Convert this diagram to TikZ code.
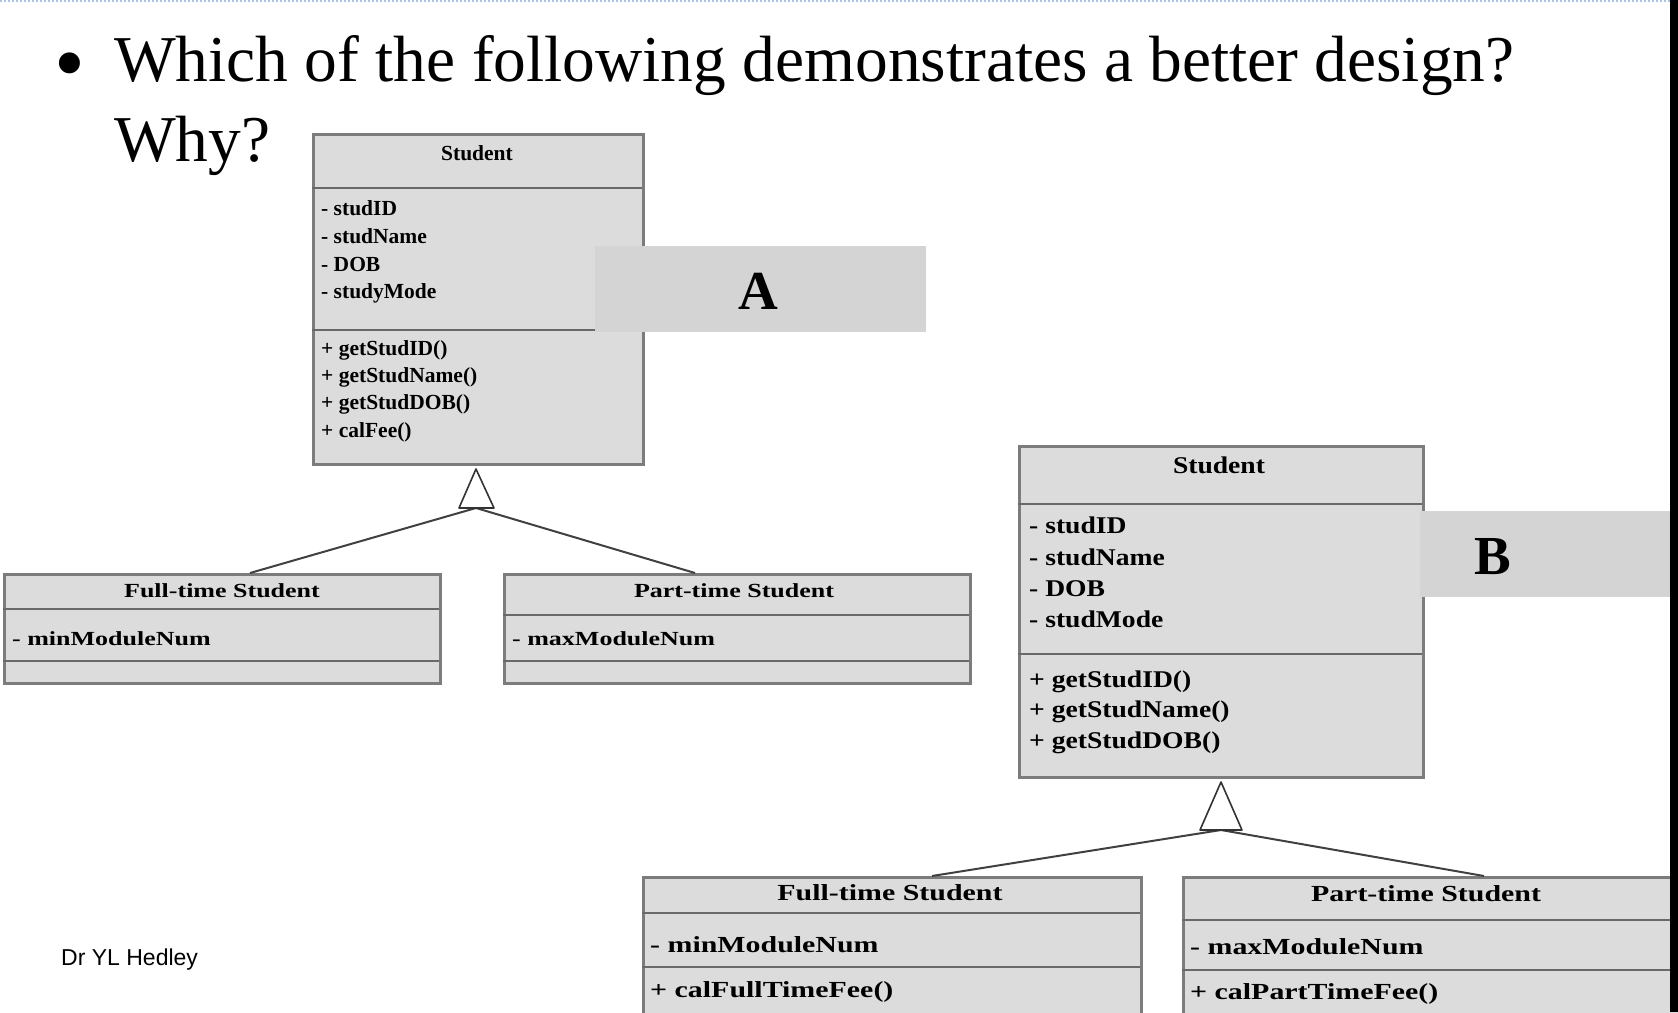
\documentclass[tikz,border=0pt]{standalone}
\usepackage{fontspec}
\setmainfont{Liberation Serif}
\newfontfamily\widefont[FakeStretch=1.3]{Liberation Serif}
\newfontfamily\midfont[FakeStretch=1.15]{Liberation Serif}
\newfontfamily\footfont{Liberation Sans}
\usepackage{xcolor}
\usepackage{tikz}
\definecolor{boxgray}{HTML}{DCDCDC}
\definecolor{tabgray}{HTML}{D4D4D4}
\definecolor{edgegray}{HTML}{7C7C7C}
\definecolor{rulegray}{HTML}{A9C6E6}
\newcommand\umlA{\fontsize{21.5}{24}\selectfont\bfseries}
\newcommand\umlAwide{\widefont\fontsize{20}{24}\selectfont\bfseries}
\newcommand\umlB{\midfont\fontsize{24}{28}\selectfont\bfseries}
\newcommand\umlBwide{\widefont\fontsize{23}{28}\selectfont\bfseries}
\tikzset{
  classbox/.style={draw=edgegray,fill=boxgray,line width=2.5pt,anchor=north west,inner sep=0pt},
  divider/.style={draw=edgegray!85!black,line width=2.5pt},
  member/.style={anchor=base west,inner sep=0pt},
  heading/.style={anchor=base,inner sep=0pt},
  tab/.style={fill=tabgray},
  tabletter/.style={inner sep=0pt,font=\fontsize{55}{60}\selectfont\bfseries},
  inherit/.style={draw=black!75,line width=2pt},
  hollow/.style={draw=black!80,fill=white,line width=1.6pt,line join=round}
}
\begin{document}
\begin{tikzpicture}[x=1pt,y=-1pt]
\useasboundingbox (0,0) rectangle (1678,1012);
\clip (0,0) rectangle (1678,1012);
\draw [rulegray,line width=2pt,dotted] (0,1) -- (1678,1);

\node [anchor=center,inner sep=0pt,font=\fontsize{88}{90}\selectfont] (bullet) at (70,73) {•};
\node [anchor=base west,inner sep=0pt,font=\fontsize{65.4}{80}\selectfont] (question) at (114,81) {Which of the following demonstrates a better design?};
\node [anchor=base west,inner sep=0pt,font=\fontsize{65.4}{80}\selectfont] (why) at (114,161) {Why?};

\node [classbox,minimum width=330pt,minimum height=330pt] (stuA) at (312,133) {};
\draw [divider] (312,188) -- (642,188);
\draw [divider] (312,330) -- (642,330);
\node [heading,font=\umlA] (stuAname) at (477,160) {Student};
\node [member,font=\umlA] (stuAid) at (321,215) {- studID};
\node [member,font=\umlA] (stuAnm) at (321,243) {- studName};
\node [member,font=\umlA] (stuAdob) at (321,271) {- DOB};
\node [member,font=\umlA] (stuAmode) at (321,298) {- studyMode};
\node [member,font=\umlA] (stuAgid) at (321,355) {+ getStudID()};
\node [member,font=\umlA] (stuAgnm) at (321,382) {+ getStudName()};
\node [member,font=\umlA] (stuAgdob) at (321,409) {+ getStudDOB()};
\node [member,font=\umlA] (stuAfee) at (321,437) {+ calFee()};
\fill [tab] (595,246) rectangle (926,332);
\node [tabletter] (labelA) at (758,291) {A};

\node [classbox,minimum width=436pt,minimum height=109pt] (fullA) at (3,573) {};
\draw [divider] (3,609) -- (439,609);
\draw [divider] (3,661) -- (439,661);
\node [heading,font=\umlAwide] (fullAname) at (222,597) {Full-time Student};
\node [member,font=\umlAwide] (fullAmin) at (12,645) {- minModuleNum};

\node [classbox,minimum width=466pt,minimum height=109pt] (partA) at (503,573) {};
\draw [divider] (503,615) -- (969,615);
\draw [divider] (503,661) -- (969,661);
\node [heading,font=\umlAwide] (partAname) at (734,597) {Part-time Student};
\node [member,font=\umlAwide] (partAmax) at (512,645) {- maxModuleNum};

\coordinate (triAtop) at (476,469);
\coordinate (triAbase) at (476,508);
\coordinate (fullAend) at (250,573);
\coordinate (partAend) at (695,573);
\draw [inherit] (triAbase) -- (fullAend);
\draw [inherit] (triAbase) -- (partAend);
\draw [hollow] (triAtop) -- (459,508) -- (494,508) -- cycle;

\node [classbox,minimum width=404pt,minimum height=331pt] (stuB) at (1018,445) {};
\draw [divider] (1018,504) -- (1422,504);
\draw [divider] (1018,654) -- (1422,654);
\node [heading,font=\umlB] (stuBname) at (1219,473) {Student};
\node [member,font=\umlB] (stuBid) at (1029,533) {- studID};
\node [member,font=\umlB] (stuBnm) at (1029,565) {- studName};
\node [member,font=\umlB] (stuBdob) at (1029,596) {- DOB};
\node [member,font=\umlB] (stuBmode) at (1029,627) {- studMode};
\node [member,font=\umlB] (stuBgid) at (1029,687) {+ getStudID()};
\node [member,font=\umlB] (stuBgnm) at (1029,717) {+ getStudName()};
\node [member,font=\umlB] (stuBgdob) at (1029,748) {+ getStudDOB()};
\fill [tab] (1420,511) rectangle (1670,597);
\node [tabletter] (labelB) at (1493,557) {B};

\node [classbox,minimum width=498pt,minimum height=160pt] (fullB) at (642,876) {};
\draw [divider] (642,913) -- (1140,913);
\draw [divider] (642,967) -- (1140,967);
\node [heading,font=\umlBwide] (fullBname) at (890,900) {Full-time Student};
\node [member,font=\umlBwide] (fullBmin) at (650,952) {- minModuleNum};
\node [member,font=\umlBwide] (fullBfee) at (650,997) {+ calFullTimeFee()};

\node [classbox,minimum width=520pt,minimum height=160pt] (partB) at (1182,876) {};
\draw [divider] (1182,920) -- (1670,920);
\draw [divider] (1182,970) -- (1670,970);
\node [heading,font=\umlBwide] (partBname) at (1426,901) {Part-time Student};
\node [member,font=\umlBwide] (partBmax) at (1190,954) {- maxModuleNum};
\node [member,font=\umlBwide] (partBfee) at (1190,999) {+ calPartTimeFee()};

\coordinate (triBtop) at (1221,782);
\coordinate (triBbase) at (1221,830);
\coordinate (fullBend) at (932,876);
\coordinate (partBend) at (1484,876);
\draw [inherit] (triBbase) -- (fullBend);
\draw [inherit] (triBbase) -- (partBend);
\draw [hollow] (triBtop) -- (1200,830) -- (1242,830) -- cycle;

\node [anchor=base west,inner sep=0pt,font=\footfont\fontsize{23}{27}\selectfont] (author) at (61,965) {Dr YL Hedley};
\fill [black] (1670,0) rectangle (1678,1012);
\end{tikzpicture}
\end{document}
